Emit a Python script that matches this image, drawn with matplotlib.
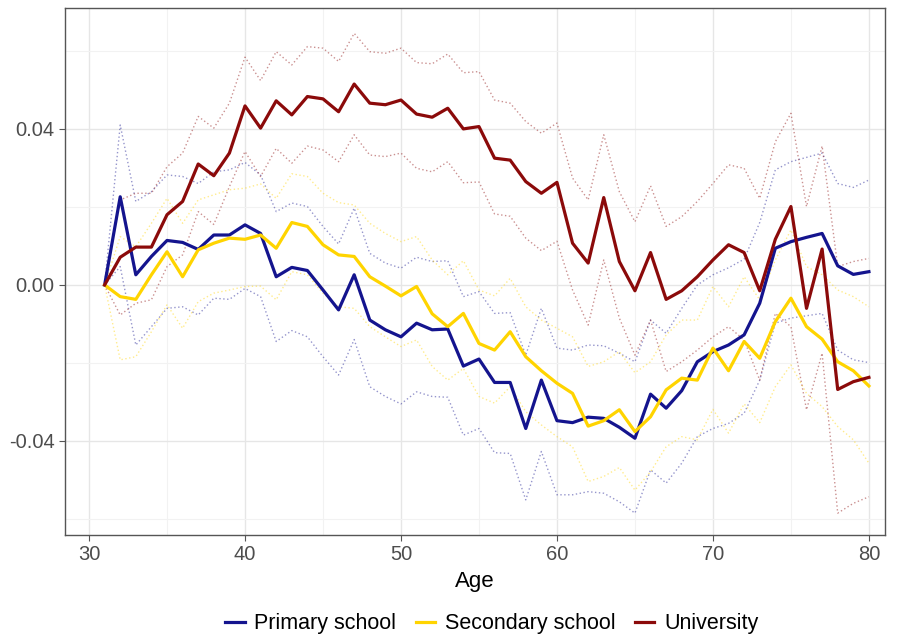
import numpy as np
import matplotlib
matplotlib.use("Agg")
import matplotlib.pyplot as plt
from matplotlib.ticker import FixedLocator, FixedFormatter

plt.rcParams['font.family'] = ['Liberation Sans', 'DejaVu Sans']

age = np.arange(31, 81)

# main estimates
primary = [0.000, 0.0226, 0.0026, 0.0073, 0.0114, 0.0109, 0.0091, 0.0128, 0.0128, 0.0154,
           0.0132, 0.0021, 0.0045, 0.0037, -0.0013, -0.0064, 0.0026, -0.0090, -0.0115, -0.0133,
           -0.0098, -0.0115, -0.0113, -0.0208, -0.0190, -0.0250, -0.0250, -0.0368, -0.0244, -0.0348,
           -0.0353, -0.0339, -0.0342, -0.0365, -0.0393, -0.0280, -0.0316, -0.0271, -0.0197, -0.0171,
           -0.0154, -0.0128, -0.0047, 0.0094, 0.0111, 0.0122, 0.0132, 0.0049, 0.0027, 0.0034]
secondary = [0.000, -0.0030, -0.0037, 0.0026, 0.0085, 0.0021, 0.0090, 0.0107, 0.0120, 0.0117,
             0.0128, 0.0094, 0.0160, 0.0150, 0.0103, 0.0077, 0.0073, 0.0021, -0.0003, -0.0028,
             -0.0004, -0.0074, -0.0107, -0.0073, -0.0150, -0.0167, -0.0120, -0.0184, -0.0220, -0.0252,
             -0.0278, -0.0362, -0.0348, -0.0320, -0.0376, -0.0338, -0.0269, -0.0239, -0.0244, -0.0162,
             -0.0220, -0.0145, -0.0188, -0.0094, -0.0034, -0.0107, -0.0139, -0.0197, -0.0220, -0.0259]
university = [0.000, 0.0071, 0.0097, 0.0097, 0.0180, 0.0214, 0.0310, 0.0280, 0.0338, 0.0459,
              0.0402, 0.0472, 0.0436, 0.0483, 0.0477, 0.0444, 0.0515, 0.0466, 0.0462, 0.0474,
              0.0438, 0.0430, 0.0453, 0.0400, 0.0406, 0.0325, 0.0320, 0.0265, 0.0235, 0.0263,
              0.0107, 0.0056, 0.0224, 0.0060, -0.0015, 0.0083, -0.0037, -0.0015, 0.0021, 0.0064,
              0.0103, 0.0083, -0.0015, 0.0117, 0.0201, -0.0060, 0.0092, -0.0268, -0.0248, -0.0237]

# confidence bands
primary_hi = [0.000, 0.0410, 0.0214, 0.0239, 0.0282, 0.0278, 0.0260, 0.0290, 0.0295, 0.0314,
              0.0282, 0.0188, 0.0210, 0.0201, 0.0150, 0.0105, 0.0197, 0.0081, 0.0056, 0.0043,
              0.0071, 0.0060, 0.0062, -0.0030, -0.0017, -0.0073, -0.0071, -0.0180, -0.0060, -0.0162,
              -0.0167, -0.0154, -0.0156, -0.0175, -0.0197, -0.0090, -0.0124, -0.0060, 0.0000, 0.0026,
              0.0044, 0.0066, 0.0160, 0.0295, 0.0316, 0.0327, 0.0338, 0.0260, 0.0250, 0.0269]
primary_lo = [0.000, 0.0047, -0.0154, -0.0107, -0.0060, -0.0056, -0.0077, -0.0034, -0.0037, -0.0009,
              -0.0030, -0.0145, -0.0117, -0.0133, -0.0184, -0.0231, -0.0140, -0.0261, -0.0286, -0.0305,
              -0.0274, -0.0286, -0.0288, -0.0385, -0.0368, -0.0430, -0.0432, -0.0551, -0.0427, -0.0538,
              -0.0538, -0.0530, -0.0534, -0.0556, -0.0585, -0.0474, -0.0508, -0.0457, -0.0389, -0.0368,
              -0.0355, -0.0329, -0.0244, -0.0098, -0.0085, -0.0079, -0.0073, -0.0167, -0.0192, -0.0199]
secondary_hi = [0.000, 0.0124, 0.0098, 0.0158, 0.0222, 0.0158, 0.0218, 0.0231, 0.0244, 0.0248,
                0.0259, 0.0222, 0.0285, 0.0278, 0.0235, 0.0211, 0.0205, 0.0158, 0.0132, 0.0111,
                0.0124, 0.0064, 0.0026, 0.0062, -0.0013, -0.0028, 0.0017, -0.0056, -0.0090, -0.0111,
                -0.0133, -0.0209, -0.0197, -0.0171, -0.0225, -0.0197, -0.0128, -0.0090, -0.0090, -0.0004,
                -0.0056, 0.0021, -0.0038, 0.0064, 0.0141, 0.0047, 0.0026, -0.0013, -0.0030, -0.0056]
secondary_lo = [0.000, -0.0192, -0.0184, -0.0120, -0.0051, -0.0111, -0.0043, -0.0021, -0.0013, -0.0004,
                -0.0003, -0.0038, 0.0034, 0.0026, -0.0021, -0.0056, -0.0060, -0.0107, -0.0133, -0.0158,
                -0.0141, -0.0209, -0.0244, -0.0214, -0.0286, -0.0303, -0.0261, -0.0325, -0.0359, -0.0389,
                -0.0415, -0.0504, -0.0491, -0.0468, -0.0526, -0.0479, -0.0415, -0.0389, -0.0397, -0.0319,
                -0.0380, -0.0305, -0.0353, -0.0261, -0.0205, -0.0278, -0.0312, -0.0363, -0.0397, -0.0457]
university_hi = [0.000, 0.0218, 0.0235, 0.0235, 0.0303, 0.0338, 0.0432, 0.0402, 0.0466, 0.0584,
                 0.0524, 0.0598, 0.0564, 0.0611, 0.0607, 0.0573, 0.0645, 0.0598, 0.0594, 0.0607,
                 0.0570, 0.0567, 0.0592, 0.0544, 0.0547, 0.0474, 0.0466, 0.0419, 0.0389, 0.0415,
                 0.0274, 0.0218, 0.0385, 0.0239, 0.0162, 0.0254, 0.0150, 0.0175, 0.0214, 0.0260,
                 0.0308, 0.0299, 0.0222, 0.0367, 0.0440, 0.0201, 0.0356, 0.0047, 0.0060, 0.0068]
university_lo = [0.000, -0.0077, -0.0047, -0.0038, 0.0047, 0.0077, 0.0188, 0.0155, 0.0252, 0.0342,
                 0.0278, 0.0350, 0.0312, 0.0356, 0.0346, 0.0316, 0.0385, 0.0333, 0.0329, 0.0338,
                 0.0299, 0.0290, 0.0316, 0.0262, 0.0264, 0.0182, 0.0176, 0.0120, 0.0088, 0.0112,
                 -0.0013, -0.0103, 0.0064, -0.0085, -0.0180, -0.0090, -0.0222, -0.0197, -0.0167, -0.0133,
                 -0.0107, -0.0141, -0.0244, -0.0073, -0.0107, -0.0320, -0.0175, -0.0585, -0.0560, -0.0543]

labels = ['Primary school', 'Secondary school', 'University']
colors = ['#14148E', '#FFD400', '#8B0A0A']

fig = plt.figure(figsize=(8.99, 6.34), dpi=100)
ax = fig.add_axes([0.0723, 0.1562, 0.9121, 0.8312])

series = [(primary, primary_lo, primary_hi),
          (secondary, secondary_lo, secondary_hi),
          (university, university_lo, university_hi)]

# dotted bands first, then the estimates on top
for (est, lo, hi), c in zip(series, colors):
    ax.plot(age, lo, color=c, lw=1.0, ls=(0, (1, 1.8)), alpha=0.45)
    ax.plot(age, hi, color=c, lw=1.0, ls=(0, (1, 1.8)), alpha=0.45)
for (est, lo, hi), c, lab in zip(series, colors, labels):
    ax.plot(age, est, color=c, lw=2.3, label=lab)

ax.set_xlim(28.46, 81.03)
ax.set_ylim(-0.0641, 0.0710)

ax.xaxis.set_major_locator(FixedLocator([30, 40, 50, 60, 70, 80]))
ax.xaxis.set_minor_locator(FixedLocator([35, 45, 55, 65, 75]))
ax.yaxis.set_major_locator(FixedLocator([-0.04, 0.0, 0.04]))
ax.yaxis.set_major_formatter(FixedFormatter(['-0.04', '0.00', '0.04']))
ax.yaxis.set_minor_locator(FixedLocator([-0.06, -0.02, 0.02, 0.06]))

ax.grid(which='major', color='#E6E6E6', lw=1.0)
ax.grid(which='minor', color='#F2F2F2', lw=0.8)
ax.set_axisbelow(True)
for s in ax.spines.values():
    s.set_color('#555555')
    s.set_linewidth(1.0)
ax.tick_params(which='major', length=4, color='#555555', labelsize=14.5, labelcolor='#4D4D4D')
ax.tick_params(which='minor', length=0)

ax.set_xlabel('Age', fontsize=16, color='black', labelpad=5)

fig.legend(loc='lower center', ncol=3, frameon=False, fontsize=15.5,
           bbox_to_anchor=(0.547, -0.031), handlelength=0.9, handletextpad=0.45,
           columnspacing=0.9)

fig.savefig('out.png', dpi=100)
